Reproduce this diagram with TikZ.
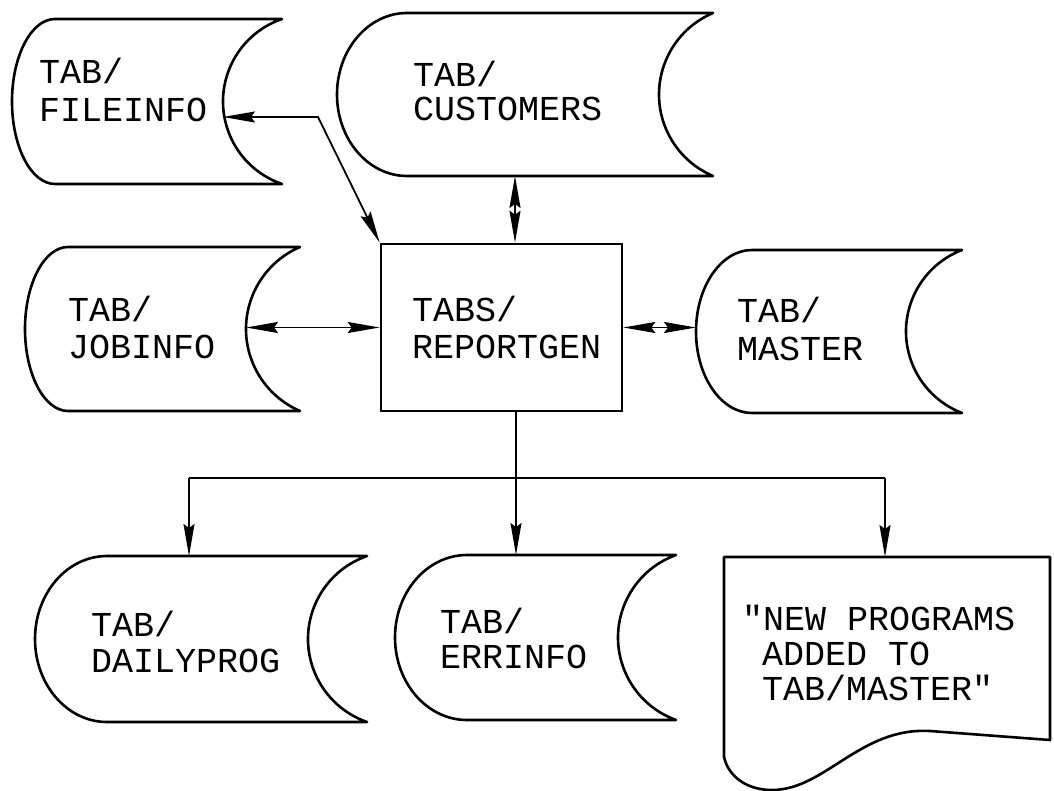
\documentclass[tikz,border=0pt]{standalone}
\usepackage{fontspec}
\setmainfont{Liberation Mono}[Ligatures=TeXOff]
\usetikzlibrary{arrows.meta}
\tikzset{
  outline/.style={line width=2.6pt, line join=round},
  conn/.style={line width=1.8pt},
  tip/.tip={Stealth[length=32pt,width=11pt,inset=4pt]},
  both/.style={conn, arrows={tip-tip}},
  fwd/.style={conn, arrows={-tip}},
  lbl/.style={anchor=base west, inner sep=0pt, font=\fontsize{35}{36}\selectfont},
  procbox/.style={draw, line width=2.6pt, inner sep=0pt}
}
\newcommand\storeshape[7]{%
  \pgfmathsetmacro\sHH{(#5-#3)/2}%
  \pgfmathsetmacro\sMM{(#3+#5)/2}%
  \pgfmathsetmacro\sRR{(\sHH*\sHH+#7*#7)/(2*#7)}%
  \pgfmathsetmacro\sDD{\sRR-#7}%
  \pgfmathsetmacro\sPH{atan2(\sHH,\sDD)}%
  \draw[outline] (#2+#6,#3) -- (#4,#3)
    arc[start angle=180+\sPH, end angle=180-\sPH, radius=\sRR]
    -- (#2+#6,#5)
    arc[start angle=90, end angle=270, x radius=#6, y radius=\sHH] -- cycle;
  \coordinate (#1-r) at (#4-#7,\sMM);
  \coordinate (#1-l) at (#2,\sMM);
}
\begin{document}
\begin{tikzpicture}[x=1pt,y=-1pt]
\useasboundingbox (0,0) rectangle (1054,791);
\fill[white] (0,0) rectangle (1054,791);

% storage shapes: id, L, T, R, B, left radius, concave depth
\storeshape{file}{12}{19}{282}{184}{43}{59}
\storeshape{cust}{337}{13}{713}{176}{70}{54}
\storeshape{job}{25}{247}{300}{411}{43}{54}
\storeshape{mast}{696}{250}{962}{413}{56}{56}
\storeshape{daily}{35}{556}{367}{722}{72}{59}
\storeshape{err}{395}{555}{676}{720}{72}{58}

% process box
\node[procbox, minimum width=241pt, minimum height=167pt] (report) at (501.5,327.5) {};

% document shape
\draw[outline] (724,557) -- (1050,557) -- (1050,740)
  -- (930,731) .. controls (860,727) and (825,790) .. (772,790)
  .. controls (745,790) and (728,775) .. (724,757) -- cycle;

% labels
\node[lbl] (file1) at (39,84) {TAB/};
\node[lbl] (file2) at (39,122) {FILEINFO};
\node[lbl] (cust1) at (413,87) {TAB/};
\node[lbl] (cust2) at (413,121) {CUSTOMERS};
\node[lbl] (job1) at (68,322) {TAB/};
\node[lbl] (job2) at (68,358) {JOBINFO};
\node[lbl] (rep1) at (412,322) {TABS/};
\node[lbl] (rep2) at (412,358) {REPORTGEN};
\node[lbl] (mast1) at (737,323) {TAB/};
\node[lbl] (mast2) at (737,360) {MASTER};
\node[lbl] (daily1) at (91,636) {TAB/};
\node[lbl] (daily2) at (91,672) {DAILYPROG};
\node[lbl] (err1) at (440,633) {TAB/};
\node[lbl] (err2) at (440,668) {ERRINFO};
\node[lbl] (doc1) at (742,630) {"NEW PROGRAMS};
\node[lbl] (doc2) at (762,665) {ADDED TO};
\node[lbl] (doc3) at (762,700) {TAB/MASTER"};

% connector points
\coordinate (file-p) at (223,117);
\coordinate (fbend) at (318,117);
\coordinate (cust-b) at (515,176);
\coordinate (rs) at (516,411);
\coordinate (branch) at (516,478);
\coordinate (daily-in) at (189,556);
\coordinate (err-in) at (516,555);
\coordinate (doc-in) at (885,557);

% connectors
\draw[both] (file-p) -- (fbend) -- (report.north west);
\draw[both] (cust-b) -- (cust-b |- report.north);
\draw[both] (job-r |- report.west) -- (report.west);
\draw[both] (report.east) -- (report.east -| mast-l);
\draw[conn] (rs) -- (branch);
\draw[fwd] (branch) -- (err-in);
\draw[conn] (daily-in |- branch) -- (doc-in |- branch);
\draw[fwd] (daily-in |- branch) -- (daily-in);
\draw[fwd] (doc-in |- branch) -- (doc-in);
\end{tikzpicture}
\end{document}
